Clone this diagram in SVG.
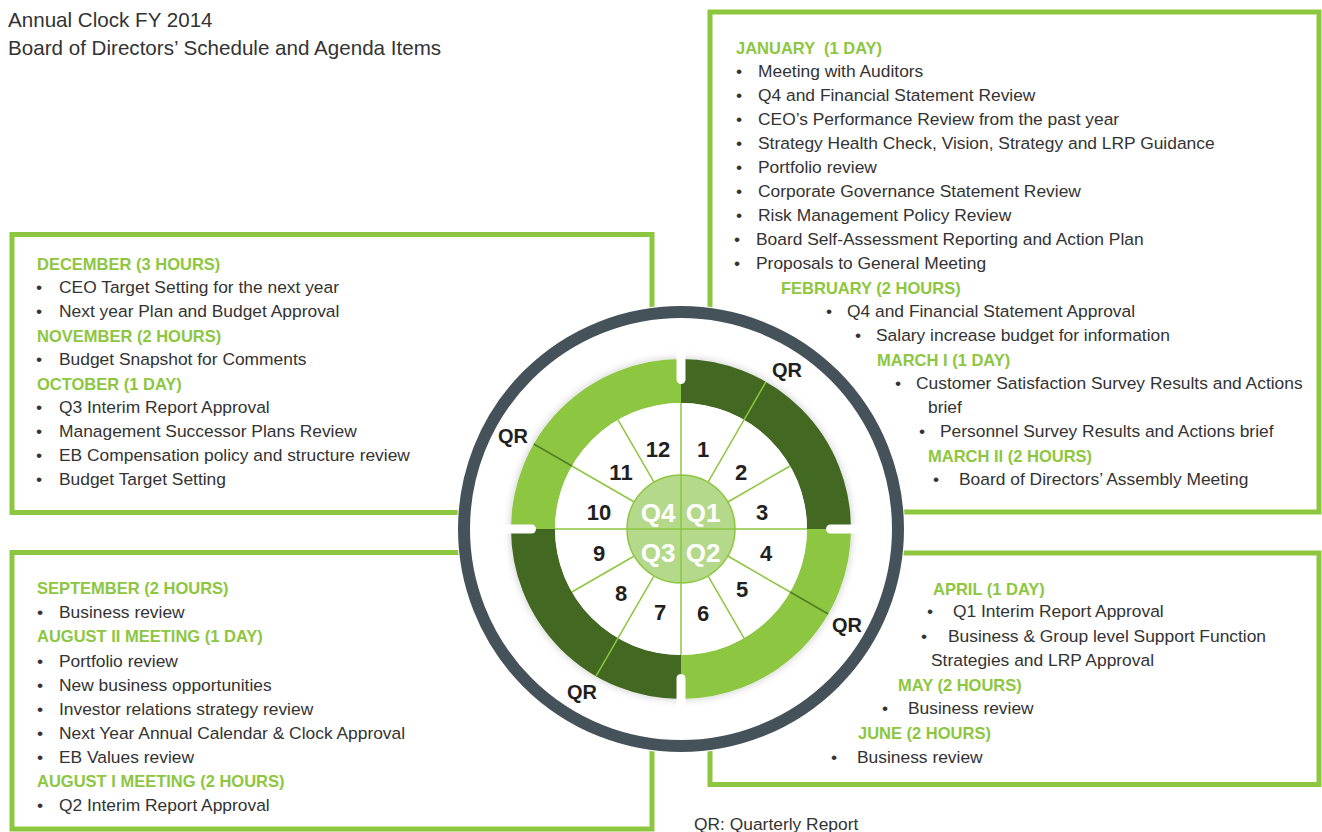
<svg xmlns="http://www.w3.org/2000/svg" width="1322" height="832" viewBox="0 0 1322 832">
<defs>
<style>
.t{font-family:"Liberation Sans",Arial,sans-serif;font-size:17.4px;fill:#333}
.b{font-family:"Liberation Sans",Arial,sans-serif;font-size:17.4px;fill:#333;text-anchor:middle}
.h{font-family:"Liberation Sans",Arial,sans-serif;font-size:16.5px;font-weight:bold;fill:#8dc63f}
.ttl{font-family:"Liberation Sans",Arial,sans-serif;font-size:20.6px;fill:#333}
.box{fill:none;stroke:#8dc63f;stroke-width:5}
.num{font-family:"Liberation Sans",Arial,sans-serif;font-size:22px;font-weight:bold;fill:#231f20;text-anchor:middle}
.q{font-family:"Liberation Sans",Arial,sans-serif;font-size:26px;font-weight:bold;fill:#fff;text-anchor:middle}
.qr{font-family:"Liberation Sans",Arial,sans-serif;font-size:20px;font-weight:bold;fill:#231f20;text-anchor:middle}
.sp{stroke:#8dc63f;stroke-width:1.5;fill:none}
.notch{stroke:#fff;stroke-width:9;stroke-linecap:round}
</style>
<filter id="sh" x="-20%" y="-20%" width="140%" height="140%">
<feDropShadow dx="0" dy="0" stdDeviation="4" flood-color="#000" flood-opacity="0.22"/>
</filter>
</defs>
<rect width="1322" height="832" fill="#fff"/>

<g id="title">
<text class="ttl" x="8" y="27">Annual Clock FY 2014</text>
<text class="ttl" x="8" y="55">Board of Directors’ Schedule and Agenda Items</text>
</g>

<g id="box-q1">
<rect class="box" x="710" y="12" width="609" height="500"/>
<text class="h" x="736" y="53.5" xml:space="preserve">JANUARY  (1 DAY)</text>
<text class="b" x="739" y="77">•</text><text class="t" x="758" y="77">Meeting with Auditors</text>
<text class="b" x="739" y="101">•</text><text class="t" x="758" y="101">Q4 and Financial Statement Review</text>
<text class="b" x="739" y="125">•</text><text class="t" x="758" y="125">CEO’s Performance Review from the past year</text>
<text class="b" x="739" y="149">•</text><text class="t" x="758" y="149">Strategy Health Check, Vision, Strategy and LRP Guidance</text>
<text class="b" x="739" y="173">•</text><text class="t" x="758" y="173">Portfolio review</text>
<text class="b" x="739" y="197">•</text><text class="t" x="758" y="197">Corporate Governance Statement Review</text>
<text class="b" x="739" y="221">•</text><text class="t" x="758" y="221">Risk Management Policy Review</text>
<text class="b" x="737" y="245">•</text><text class="t" x="756" y="245">Board Self-Assessment Reporting and Action Plan</text>
<text class="b" x="737" y="269">•</text><text class="t" x="756" y="269">Proposals to General Meeting</text>
<text class="h" x="781" y="293.5">FEBRUARY (2 HOURS)</text>
<text class="b" x="829" y="317">•</text><text class="t" x="847" y="317">Q4 and Financial Statement Approval</text>
<text class="b" x="858" y="341">•</text><text class="t" x="876" y="341">Salary increase budget for information</text>
<text class="h" x="877" y="365.5">MARCH I (1 DAY)</text>
<text class="b" x="898" y="389">•</text><text class="t" x="916" y="389">Customer Satisfaction Survey Results and Actions</text>
<text class="t" x="928" y="413">brief</text>
<text class="b" x="922" y="437">•</text><text class="t" x="940" y="437">Personnel Survey Results and Actions brief</text>
<text class="h" x="928" y="461.5">MARCH II (2 HOURS)</text>
<text class="b" x="936" y="485">•</text><text class="t" x="959" y="485">Board of Directors’ Assembly Meeting</text>
</g>

<g id="box-q4">
<rect class="box" x="12" y="234.5" width="640" height="278"/>
<text class="h" x="37" y="269.5">DECEMBER (3 HOURS)</text>
<text class="b" x="39" y="293">•</text><text class="t" x="59" y="293">CEO Target Setting for the next year</text>
<text class="b" x="39" y="317">•</text><text class="t" x="59" y="317">Next year Plan and Budget Approval</text>
<text class="h" x="37" y="341.5">NOVEMBER (2 HOURS)</text>
<text class="b" x="39" y="365">•</text><text class="t" x="59" y="365">Budget Snapshot for Comments</text>
<text class="h" x="37" y="389.5">OCTOBER (1 DAY)</text>
<text class="b" x="39" y="413">•</text><text class="t" x="59" y="413">Q3 Interim Report Approval</text>
<text class="b" x="39" y="437">•</text><text class="t" x="59" y="437">Management Successor Plans Review</text>
<text class="b" x="39" y="461">•</text><text class="t" x="59" y="461">EB Compensation policy and structure review</text>
<text class="b" x="39" y="485">•</text><text class="t" x="59" y="485">Budget Target Setting</text>
</g>

<g id="box-q3">
<rect class="box" x="12" y="552.5" width="640" height="276.5"/>
<text class="h" x="37" y="594">SEPTEMBER (2 HOURS)</text>
<text class="b" x="40" y="617.5">•</text><text class="t" x="59" y="617.5">Business review</text>
<text class="h" x="37" y="642">AUGUST II MEETING (1 DAY)</text>
<text class="b" x="40" y="666.5">•</text><text class="t" x="59" y="666.5">Portfolio review</text>
<text class="b" x="40" y="690.5">•</text><text class="t" x="59" y="690.5">New business opportunities</text>
<text class="b" x="40" y="714.5">•</text><text class="t" x="59" y="714.5">Investor relations strategy review</text>
<text class="b" x="40" y="738.5">•</text><text class="t" x="59" y="738.5">Next Year Annual Calendar &amp; Clock Approval</text>
<text class="b" x="40" y="762.5">•</text><text class="t" x="59" y="762.5">EB Values review</text>
<text class="h" x="37" y="787">AUGUST I MEETING (2 HOURS)</text>
<text class="b" x="40" y="811">•</text><text class="t" x="59" y="811">Q2 Interim Report Approval</text>
</g>

<g id="box-q2">
<rect class="box" x="710" y="553" width="609" height="231.5"/>
<text class="h" x="933" y="594.5">APRIL (1 DAY)</text>
<text class="b" x="930" y="617">•</text><text class="t" x="953" y="617">Q1 Interim Report Approval</text>
<text class="b" x="924" y="641.5">•</text><text class="t" x="948" y="641.5">Business &amp; Group level Support Function</text>
<text class="t" x="931" y="666">Strategies and LRP Approval</text>
<text class="h" x="898" y="690.5">MAY (2 HOURS)</text>
<text class="b" x="885" y="714">•</text><text class="t" x="908" y="714">Business review</text>
<text class="h" x="858" y="738.5">JUNE (2 HOURS)</text>
<text class="b" x="834" y="762.5">•</text><text class="t" x="857" y="762.5">Business review</text>
</g>

<g id="clock">
<circle cx="681" cy="529" r="224" fill="#fff"/>
<circle cx="681" cy="529" r="217" fill="none" stroke="#46525a" stroke-width="12"/>
<g id="quarter-ring" filter="url(#sh)" fill="none" stroke-width="44">
<path d="M681 381 A148 148 0 0 1 829 529" stroke="#436823"/>
<path d="M829 529 A148 148 0 0 1 681 677" stroke="#8dc63f"/>
<path d="M681 677 A148 148 0 0 1 533 529" stroke="#436823"/>
<path d="M533 529 A148 148 0 0 1 681 381" stroke="#8dc63f"/>
</g>
<circle cx="681" cy="529" r="126" fill="#fff"/>
<g id="notches">
<line class="notch" x1="681" y1="345" x2="681" y2="379.5"/>
<line class="notch" x1="865" y1="529" x2="830.5" y2="529"/>
<line class="notch" x1="681" y1="713" x2="681" y2="678.5"/>
<line class="notch" x1="497" y1="529" x2="531.5" y2="529"/>
</g>
<circle cx="681" cy="529" r="54" fill="#b5d98b" stroke="#8dc63f" stroke-width="1.5"/>
</g>

<g id="connectors">
<line class="sp" x1="681" y1="403" x2="681" y2="655"/>
<line class="sp" x1="555" y1="529" x2="807" y2="529"/>
<line class="sp" x1="708" y1="482.24" x2="744" y2="419.88"/>
<line class="sp" x1="727.77" y1="502" x2="790.12" y2="466"/>
<line class="sp" x1="727.77" y1="556" x2="790.12" y2="592"/>
<line class="sp" x1="708" y1="575.77" x2="744" y2="638.12"/>
<line class="sp" x1="654" y1="575.77" x2="618" y2="638.12"/>
<line class="sp" x1="634.23" y1="556" x2="571.88" y2="592"/>
<line class="sp" x1="634.23" y1="502" x2="571.88" y2="466"/>
<line class="sp" x1="654" y1="482.24" x2="618" y2="419.88"/>
<line x1="744" y1="419.88" x2="766" y2="381.78" stroke="#8dc63f" stroke-width="1.5"/>
<line x1="790.12" y1="592" x2="828.22" y2="614" stroke="#4f7d25" stroke-width="1.5"/>
<line x1="618" y1="638.12" x2="596" y2="676.22" stroke="#8dc63f" stroke-width="1.5"/>
<line x1="571.88" y1="466" x2="533.78" y2="444" stroke="#4f7d25" stroke-width="1.5"/>
</g>

<g id="labels">
<text class="num" x="703" y="456.5">1</text>
<text class="num" x="741" y="479.5">2</text>
<text class="num" x="762" y="519.5">3</text>
<text class="num" x="766" y="560.5">4</text>
<text class="num" x="742" y="597">5</text>
<text class="num" x="703" y="620.5">6</text>
<text class="num" x="660" y="619.5">7</text>
<text class="num" x="621" y="601">8</text>
<text class="num" x="599" y="560.5">9</text>
<text class="num" x="599" y="519.5">10</text>
<text class="num" x="621" y="479.5">11</text>
<text class="num" x="658" y="456.5">12</text>
<text class="q" x="658" y="521.5">Q4</text>
<text class="q" x="703" y="521.5">Q1</text>
<text class="q" x="658" y="561.5">Q3</text>
<text class="q" x="703" y="561.5">Q2</text>
<text class="qr" x="787" y="376.5">QR</text>
<text class="qr" x="513" y="443">QR</text>
<text class="qr" x="847" y="632">QR</text>
<text class="qr" x="582" y="699">QR</text>
</g>

<text class="t" x="694" y="830">QR: Quarterly Report</text>
</svg>
